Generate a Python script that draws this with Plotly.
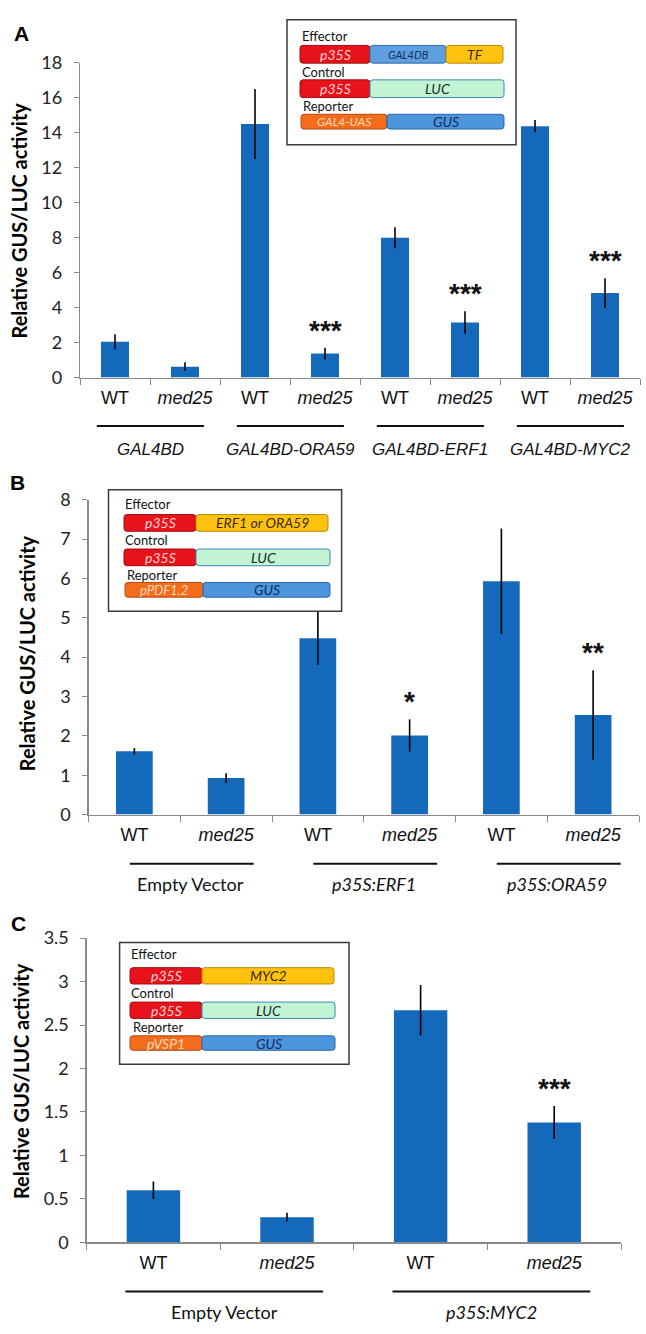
import plotly.graph_objects as go

# ---------------- data ----------------
genotypes = ["WT", "med25"]

A_groups = ["GAL4BD", "GAL4BD-ORA59", "GAL4BD-ERF1", "GAL4BD-MYC2"]
A_values = [2.05, 0.62, 14.5, 1.37, 8.0, 3.15, 14.38, 4.83]
A_errors = [0.43, 0.25, 2.0, 0.33, 0.6, 0.65, 0.35, 0.85]
A_stars = ["", "", "", "***", "", "***", "", "***"]

B_groups = ["Empty Vector", "p35S:ERF1", "p35S:ORA59"]
B_values = [1.61, 0.93, 4.48, 2.01, 5.93, 2.53]
B_errors = [0.08, 0.12, 0.67, 0.41, 1.34, 1.14]
B_stars = ["", "", "", "*", "", "**"]

C_groups = ["Empty Vector", "p35S:MYC2"]
C_values = [0.60, 0.29, 2.67, 1.38]
C_errors = [0.10, 0.05, 0.29, 0.19]
C_stars = ["", "", "", "***"]

y_title = "Relative GUS/LUC activity"

# ---------------- styling helpers ----------------
W, H = 646, 1334
def px(x):
    return x / W
def py(y):
    return 1 - y / H

BAR = "#1569ba"
AXIS = "#8a8a8a"
CAL = "Lato, 'Open Sans', sans-serif"
ARI = "'Liberation Sans', Arial, sans-serif"

fig = go.Figure()

panels = [
    dict(letter="A", groups=A_groups, values=A_values, errors=A_errors, stars=A_stars,
         dom=(80, 640, 51.7, 371.7), ymax=18, dtick=2, letter_pos=(21, 22), title_pos=(19, 212),
         gline_y=421, glabel_y=445, gl_off=(-0.26, 0.27), glabel_shift=0.0,
         gfont=dict(family=ARI, size=17, color="#111"), gitalic=[True, True, True, True]),
    dict(letter="B", groups=B_groups, values=B_values, errors=B_errors, stars=B_stars,
         dom=(88.5, 639, 496, 816), ymax=8, dtick=1, letter_pos=(17, 478), title_pos=(27, 652),
         gline_y=866, glabel_y=887, gl_off=(-0.05, 0.3), glabel_shift=0.11,
         gfont=dict(family=CAL, size=18, color="#111"), gitalic=[False, True, True]),
    dict(letter="C", groups=C_groups, values=C_values, errors=C_errors, stars=C_stars,
         dom=(86.6, 621, 941.7, 1251), ymax=3.5, dtick=0.5, letter_pos=(18.6, 927), title_pos=(21, 1087),
         gline_y=1301, glabel_y=1322, gl_off=(-0.21, 0.27), glabel_shift=0.03,
         gfont=dict(family=CAL, size=18, color="#111"), gitalic=[False, True]),
]

annotations = []
shapes = []

def ann(**kw):
    base = dict(showarrow=False, xanchor="center", yanchor="middle")
    base.update(kw)
    annotations.append(base)

for i, p in enumerate(panels):
    s = "" if i == 0 else str(i + 1)
    cats = [f"{g}|{gt}" for g in p["groups"] for gt in genotypes]
    ticktext = [gt if gt == "WT" else "<i>med25</i>" for g in p["groups"] for gt in genotypes]
    fig.add_bar(
        x=cats, y=p["values"], width=0.4,
        marker=dict(color=BAR, line=dict(width=0)),
        error_y=dict(type="data", array=p["errors"], color="black", thickness=1.6, width=0),
        xaxis="x" + s, yaxis="y" + s, showlegend=False, hoverinfo="skip",
    )
    x0, x1, ytop, ybot = p["dom"]
    fig.update_layout(**{
        "xaxis" + s: dict(
            domain=[px(x0), px(x1)], anchor="y" + s, type="category",
            tickmode="array", tickvals=cats, ticktext=ticktext, tickson="boundaries",
            ticks="outside", ticklen=6, tickcolor=AXIS, tickwidth=1,
            showline=True, linecolor=AXIS, linewidth=1.2,
            range=[-0.5, len(cats) - 0.5], showgrid=False, zeroline=False,
            tickfont=dict(family=ARI, size=18, color="#111"), ticklabelstandoff=4,
        ),
        "yaxis" + s: dict(
            domain=[py(ybot), py(ytop)], anchor="x" + s,
            range=[0, p["ymax"]], dtick=p["dtick"], tick0=0,
            ticks="outside", ticklen=5, tickcolor=AXIS, tickwidth=1,
            showline=True, linecolor=AXIS, linewidth=1.2,
            showgrid=False, zeroline=False,
            tickfont=dict(family=CAL, size=18, color="#222"), ticklabelstandoff=8,
        ),
    })
    lx, ly = p["letter_pos"]
    ann(text=f"<b>{p['letter']}</b>", x=px(lx), y=py(ly), xref="paper", yref="paper",
        font=dict(family=ARI, size=21, color="#000"))
    tx, ty = p["title_pos"]
    ann(text=f"<b>{y_title}</b>", x=px(tx), y=py(ty), xref="paper", yref="paper",
        textangle=-90, font=dict(family=CAL, size=20, color="#000"))
    for k, st in enumerate(p["stars"]):
        if st:
            ann(text=f"<b>{st}</b>", x=k, y=p["values"][k] + p["errors"][k],
                xref="x" + s, yref="y" + s, yanchor="bottom", yshift=0,
                font=dict(family=ARI, size=28, color="#111"))
    for g, name in enumerate(p["groups"]):
        i0, i1 = 2 * g, 2 * g + 1
        shapes.append(dict(type="line", xref="x" + s, yref="paper",
                           x0=i0 + p["gl_off"][0], x1=i1 + p["gl_off"][1],
                           y0=py(p["gline_y"]), y1=py(p["gline_y"]),
                           line=dict(color="#111", width=2)))
        label = f"<i>{name}</i>" if p["gitalic"][g] else name
        ann(text=label, x=(i0 + i1) / 2 + p["glabel_shift"], y=py(p["glabel_y"]),
            xref="x" + s, yref="paper", font=p["gfont"])

# ---------------- construct insets ----------------
RED = ("#e8121a", "#a00d12", "#ffd4d4")
BLUE = ("#5d9fdf", "#2f6fb0", "#16305e")
YEL = ("#ffc20e", "#b58a00", "#3a2a00")
GRN = ("#c2f4d4", "#3a88b8", "#1a2a2a")
ORG = ("#f36c1c", "#b34a10", "#ffd9b8")
GUS = ("#4d96de", "#2a66a8", "#112c58")

def rrect(x0, y0, x1, y1, r=3):
    pts = [("M", x0 + r, y0), ("L", x1 - r, y0), ("Q", x1, y0, x1, y0 + r), ("L", x1, y1 - r),
           ("Q", x1, y1, x1 - r, y1), ("L", x0 + r, y1), ("Q", x0, y1, x0, y1 - r),
           ("L", x0, y0 + r), ("Q", x0, y0, x0 + r, y0)]
    out = ""
    for pt in pts:
        coords = pt[1:]
        parts = [f"{px(coords[j]):.5f},{py(coords[j + 1]):.5f}" for j in range(0, len(coords), 2)]
        out += pt[0] + " ".join(parts)
    return out + "Z"

seg_font = {"GAL4DB": 11, "GAL4-UAS": 12, "pPDF1.2": 13}

insets = [
    dict(box=(287, 8, 516, 135), rows=[
        ("Effector", (300, 24), (34, 52), [(300, 370, RED, "p35S"), (370, 446, BLUE, "GAL4DB"), (446, 503, YEL, "TF")]),
        ("Control", (300, 61), (69, 87), [(300, 370, RED, "p35S"), (370, 504, GRN, "LUC")]),
        ("Reporter", (301, 96), (104, 119), [(301, 387, ORG, "GAL4-UAS"), (387, 504, GUS, "GUS")]),
    ]),
    dict(box=(108.5, 485.7, 341.6, 609.3), rows=[
        ("Effector", (123, 500), (511, 528), [(124, 196, RED, "p35S"), (196, 328, YEL, "ERF1 or ORA59")]),
        ("Control", (123, 537), (546, 563), [(124, 196, RED, "p35S"), (196, 330, GRN, "LUC")]),
        ("Reporter", (125, 572), (580, 595), [(125, 203, ORG, "pPDF1.2"), (203, 330, GUS, "GUS")]),
    ]),
    dict(box=(119.6, 946, 349, 1070), rows=[
        ("Effector", (129, 958), (971.7, 988.3), [(130, 202, RED, "p35S"), (202, 334, YEL, "MYC2")]),
        ("Control", (129, 997), (1006.7, 1023.3), [(130, 202, RED, "p35S"), (202, 335, GRN, "LUC")]),
        ("Reporter", (131, 1032), (1041, 1055.7), [(130, 202, ORG, "pVSP1"), (202, 335, GUS, "GUS")]),
    ]),
]

for ins in insets:
    bx0, by0, bx1, by1 = ins["box"]
    shapes.append(dict(type="rect", xref="paper", yref="paper", x0=px(bx0), x1=px(bx1),
                       y0=py(by1), y1=py(by0), fillcolor="white", line=dict(color="#3a3a3a", width=1.5),
                       layer="above"))
    for lab, (lx, ly), (ry0, ry1), segs in ins["rows"]:
        ann(text=lab, x=px(lx), y=py(ly), xref="paper", yref="paper", xanchor="left",
            font=dict(family=CAL, size=13, color="#111"))
        for sx0, sx1, (fill, edge, tcol), txt in segs:
            shapes.append(dict(type="path", xref="paper", yref="paper", path=rrect(sx0, ry0, sx1, ry1),
                               fillcolor=fill, line=dict(color=edge, width=1), layer="above"))
            ann(text=f"<i>{txt}</i>", x=px((sx0 + sx1) / 2), y=py((ry0 + ry1) / 2),
                xref="paper", yref="paper", font=dict(family=CAL, size=seg_font.get(txt, 14), color=tcol))

fig.update_layout(
    width=W, height=H, autosize=False,
    margin=dict(l=0, r=0, t=0, b=0),
    paper_bgcolor="white", plot_bgcolor="white",
    shapes=shapes, annotations=annotations, bargap=0.6,
)

fig.write_html("out.html", config={"displayModeBar": False, "staticPlot": True},
               post_script="document.body.style.margin='0';document.body.style.overflow='hidden';")
